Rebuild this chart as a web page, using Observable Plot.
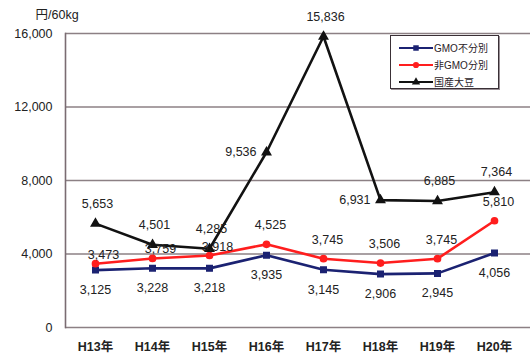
<!DOCTYPE html>
<html>
<head>
<meta charset="utf-8">
<script src="https://cdn.jsdelivr.net/npm/d3@7"></script>
<script src="https://cdn.jsdelivr.net/npm/@observablehq/plot@0.6"></script>
<style>
  html, body { margin: 0; padding: 0; background: #fff; }
  #wrap { position: relative; width: 530px; height: 355px; font-family: "Liberation Sans", "Noto Sans CJK JP", sans-serif; }
  #legend {
    position: absolute; left: 390px; top: 35px; width: 109px; height: 54px;
    border: 1px solid #3a3036; box-shadow: 1px 1px 0 #9a9096; background: #fff;
    box-sizing: border-box; padding-top: 3px;
  }
  .row { display: flex; align-items: center; height: 17px; font-size: 10px; color: #2a2228; }
  .row svg { margin-left: 8px; margin-right: 1px; }
</style>
</head>
<body>
<div id="wrap"><div id="legend"></div></div>
<script>
// Fiscal years (Heisei era)
const years = ["H13年", "H14年", "H15年", "H16年", "H17年", "H18年", "H19年", "H20年"];
// Soybean prices, yen per 60 kg
const gmoMixed = [3125, 3228, 3218, 3935, 3145, 2906, 2945, 4056];   // GMO不分別
const nonGmo   = [3473, 3759, 3918, 4525, 3745, 3506, 3745, 5810];   // 非GMO分別
const domestic = [5653, 4501, 4285, 9536, 15836, 6931, 6885, 7364];  // 国産大豆
const seriesNames = ["GMO不分別", "非GMO分別", "国産大豆"];
const seriesColors = ["#1b2272", "#ff1e1e", "#121212"];
const seriesSymbols = ["square", "circle", "triangle"];
const yTicks = [0, 4000, 8000, 12000, 16000];
const unitLabel = "円/60kg";

const seriesValues = [gmoMixed, nonGmo, domestic];
const rows = seriesValues.flatMap((vals, s) =>
  vals.map((v, i) => ({year: years[i], value: v, series: seriesNames[s], i}))
);
const bySeries = name => rows.filter(d => d.series === name);
const fmt = d3.format(",");
const font = "Liberation Sans, Noto Sans CJK JP, sans-serif";

const [mixedRows, nonGmoRows, domesticRows] = seriesNames.map(bySeries);
// Domestic labels sit left of the point where the line climbs/falls steeply
const leftPlaced = new Set(["H16年", "H18年"]);

const chart = Plot.plot({
  width: 530,
  height: 355,
  marginLeft: 65,
  marginRight: 0,
  marginTop: 33,
  marginBottom: 28,
  insetLeft: 28,
  insetRight: 35,
  style: {fontFamily: font, fontSize: "12.5px", color: "#222", background: "#fff"},
  x: {type: "point", domain: years, padding: 0},
  y: {domain: [0, 16000], ticks: yTicks},
  color: {domain: seriesNames, range: seriesColors},
  symbol: {domain: seriesNames, range: seriesSymbols},
  marks: [
    Plot.ruleY(yTicks, {stroke: "#8c8084", strokeWidth: 1.6}),
    Plot.frame({anchor: "left", stroke: "#7a6c72", strokeWidth: 1.6}),
    Plot.axisY({ticks: yTicks, tickSize: 0, tickPadding: 13, tickFormat: fmt, label: null, fontSize: 12.5}),
    Plot.axisX({tickSize: 0, tickPadding: 15, label: null, fontSize: 12.5, fontWeight: "bold"}),
    Plot.text([unitLabel], {frameAnchor: "top-left", dx: -30, dy: -23, fontSize: 12.5, textAnchor: "start"}),
    Plot.line(rows, {x: "year", y: "value", z: "series", stroke: "series", strokeWidth: 2.6}),
    Plot.dot(rows, {x: "year", y: "value", symbol: "series", fill: "series", stroke: "series", r: 3.1}),
    // value labels
    Plot.text(mixedRows, {x: "year", y: "value", text: d => fmt(d.value), dy: 20, fill: "#222"}),
    Plot.text(nonGmoRows.filter(d => d.i < 3), {x: "year", y: "value", text: d => fmt(d.value), dy: -9, dx: 8, fill: "#222"}),
    Plot.text(nonGmoRows.filter(d => d.i >= 3), {x: "year", y: "value", text: d => fmt(d.value), dy: -19, dx: 4, fill: "#222"}),
    Plot.text(domesticRows.filter(d => !leftPlaced.has(d.year)), {x: "year", y: "value", text: d => fmt(d.value), dy: -20, dx: 2, fill: "#222"}),
    Plot.text(domesticRows.filter(d => leftPlaced.has(d.year)), {x: "year", y: "value", text: d => fmt(d.value), dx: -10, textAnchor: "end", fill: "#222"})
  ]
});
document.getElementById("wrap").prepend(chart);

// Legend
const legend = d3.select("#legend");
seriesNames.forEach((name, s) => {
  const row = legend.append("div").attr("class", "row");
  const sw = row.append("svg").attr("width", 34).attr("height", 10);
  sw.append("line").attr("x1", 0).attr("x2", 34).attr("y1", 5).attr("y2", 5)
    .attr("stroke", seriesColors[s]).attr("stroke-width", 2);
  sw.append("path").attr("transform", "translate(17,5)")
    .attr("d", d3.symbol(
      seriesSymbols[s] === "square" ? d3.symbolSquare : seriesSymbols[s] === "circle" ? d3.symbolCircle : d3.symbolTriangle, 30)())
    .attr("fill", seriesColors[s]);
  row.append("span").text(name);
});
</script>
</body>
</html>
